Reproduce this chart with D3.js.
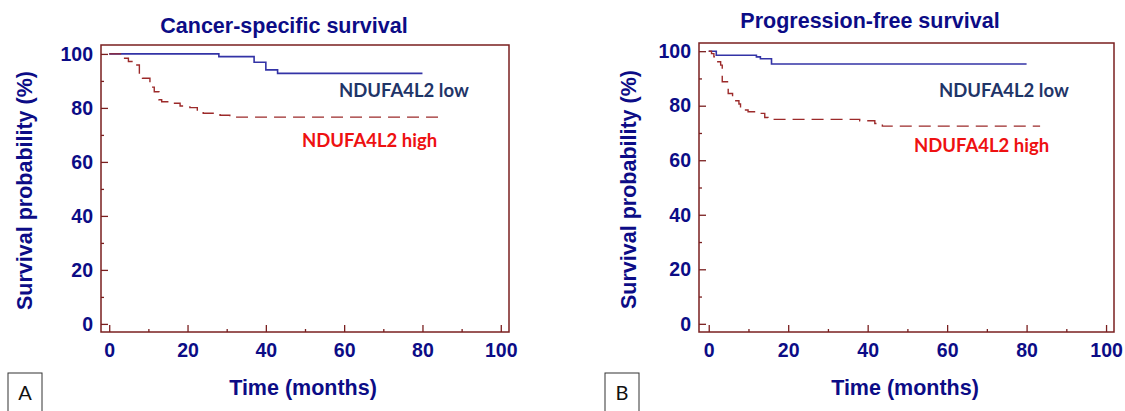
<!DOCTYPE html>
<html>
<head>
<meta charset="utf-8">
<script src="https://cdn.jsdelivr.net/npm/d3@7"></script>
<style>
  body { margin: 0; background: #fff; }
  .tick text { font-family: "Liberation Sans", Arial, sans-serif; font-weight: bold; font-size: 19.5px; fill: #0c0c86; }
  .title, .axisText { font-family: "Liberation Sans", Arial, sans-serif; font-weight: bold; fill: #0c0c86; }
  .legendText { font-family: Lato, "Open Sans", sans-serif; font-weight: bold; font-size: 18.5px; }
</style>
</head>
<body>
<div id="chart"></div>
<script>
// data

var xTicks = [0, 20, 40, 60, 80, 100];
var yTicks = [0, 20, 40, 60, 80, 100];

// A: cancer-specific survival
var csLowTime = [0, 28, 37, 40, 43, 80];
var csLowSurv = [100, 99, 96.9, 94.1, 92.8, 92.8];
var csHighTime = [0, 3.2, 4.9, 6.0, 7.7, 8.5, 10.4, 11.5, 12.7, 13.4, 15.5, 18.1, 20.6, 22.5, 24, 28.3, 30.8, 84];
var csHighSurv = [100, 98.4, 97.2, 95.9, 92.5, 91.0, 87.7, 86.0, 83.0, 82.3, 81.7, 80.7, 80.1, 78.9, 78.0, 77.3, 76.6, 76.6];

// B: progression-free survival
var pfsLowTime = [0, 1.9, 12, 13, 15.8, 80];
var pfsLowSurv = [100, 98.5, 97.9, 97.2, 95.3, 95.3];
var pfsHighTime = [0, 0.7, 1.3, 1.9, 3.0, 3.4, 4.9, 6.0, 7.6, 8.0, 9.9, 12.8, 14.1, 14.9, 38, 41.8, 43.7, 83.4];
var pfsHighSurv = [100, 99.1, 97.9, 96.1, 94.9, 88.8, 84.5, 81.8, 80.6, 78.4, 77.8, 77.2, 75.7, 75.0, 74.5, 73.5, 72.5, 72.5];

var svgWidth = 1125;
var svgHeight = 411;

var svg = d3.select('#chart')
    .append('svg')
    .attr('width', svgWidth)
    .attr('height', svgHeight);

var frameColor = '#7a1f1f';

var panels = [
    {
        title: 'Cancer-specific survival', letter: 'A',
        left: 101, right: 509, top: 45, bottom: 332,
        xDomain: [-2.1, 102.1], yDomain: [-3, 103.3],
        titleX: 284, titleY: 33, yLabelX: 32, timeX: 303, boxX: 8,
        low: [csLowTime, csLowSurv], high: [csHighTime, csHighSurv],
        lowLabel: [339, 97], highLabel: [302, 147]
    },
    {
        title: 'Progression-free survival', letter: 'B',
        left: 699, right: 1114, top: 43, bottom: 332,
        xDomain: [-2.45, 102.0], yDomain: [-3, 103],
        titleX: 870, titleY: 28, yLabelX: 636, timeX: 905, boxX: 605,
        low: [pfsLowTime, pfsLowSurv], high: [pfsHighTime, pfsHighSurv],
        lowLabel: [939, 97], highLabel: [914, 152]
    }
];

panels.forEach(function(p) {

    var x = d3.scaleLinear().domain(p.xDomain).range([p.left, p.right]);
    var y = d3.scaleLinear().domain(p.yDomain).range([p.bottom, p.top]);

    var g = svg.append('g');

    // frame
    g.append('rect')
        .attr('x', p.left)
        .attr('y', p.top)
        .attr('width', p.right - p.left)
        .attr('height', p.bottom - p.top)
        .attr('fill', 'none')
        .attr('stroke', frameColor)
        .attr('stroke-width', 1.5);

    // axes, ticks pointing inward
    var bottomAxis = d3.axisBottom(x).tickValues(xTicks).tickSizeInner(-7).tickSizeOuter(0).tickPadding(11);
    var bottomMinor = d3.axisBottom(x).tickValues([10, 30, 50, 70, 90]).tickSizeInner(-3).tickSizeOuter(0).tickFormat('');
    var leftAxis = d3.axisLeft(y).tickValues(yTicks).tickSizeInner(-7).tickSizeOuter(0).tickPadding(8);
    var leftMinor = d3.axisLeft(y).tickValues([10, 30, 50, 70, 90]).tickSizeInner(-3).tickSizeOuter(0).tickFormat('');

    [bottomAxis, bottomMinor].forEach(function(ax) {
        g.append('g')
            .attr('transform', `translate(0, ${p.bottom})`)
            .call(ax)
            .call(s => s.select('.domain').remove());
    });
    [leftAxis, leftMinor].forEach(function(ax) {
        g.append('g')
            .attr('transform', `translate(${p.left}, 0)`)
            .call(ax)
            .call(s => s.select('.domain').remove());
    });
    g.selectAll('.tick line').attr('stroke', frameColor).attr('stroke-width', 1.3);

    // step curves
    var line = d3.line()
        .x(d => x(d[0]))
        .y(d => y(d[1]))
        .curve(d3.curveStepAfter);

    g.append('path')
        .datum(d3.zip(p.low[0], p.low[1]))
        .attr('d', line)
        .attr('fill', 'none')
        .attr('stroke', '#3333a6')
        .attr('stroke-width', 1.6);

    g.append('path')
        .datum(d3.zip(p.high[0], p.high[1]))
        .attr('d', line)
        .attr('fill', 'none')
        .attr('stroke', '#9c2a2a')
        .attr('stroke-width', 1.4)
        .attr('stroke-dasharray', '12,7');

    // curve labels
    g.append('text')
        .attr('class', 'legendText')
        .attr('x', p.lowLabel[0])
        .attr('y', p.lowLabel[1])
        .attr('fill', '#1f3568')
        .text('NDUFA4L2 low');

    g.append('text')
        .attr('class', 'legendText')
        .attr('x', p.highLabel[0])
        .attr('y', p.highLabel[1])
        .attr('fill', '#ee1111')
        .text('NDUFA4L2 high');

    // titles and axis labels
    g.append('text')
        .attr('class', 'title')
        .attr('x', p.titleX)
        .attr('y', p.titleY)
        .attr('text-anchor', 'middle')
        .style('font-size', '21.5px')
        .text(p.title);

    g.append('text')
        .attr('class', 'axisText')
        .attr('transform', `translate(${p.yLabelX}, ${(p.top + p.bottom) / 2 + 2}) rotate(-90)`)
        .attr('text-anchor', 'middle')
        .style('font-size', '21.5px')
        .text('Survival probability (%)');

    g.append('text')
        .attr('class', 'axisText')
        .attr('x', p.timeX)
        .attr('y', 395)
        .attr('text-anchor', 'middle')
        .style('font-size', '21.5px')
        .text('Time (months)');

    // panel letter box
    g.append('rect')
        .attr('x', p.boxX)
        .attr('y', 373)
        .attr('width', 34)
        .attr('height', 45)
        .attr('fill', 'none')
        .attr('stroke', '#333')
        .attr('stroke-width', 1);

    g.append('text')
        .attr('x', p.boxX + 17)
        .attr('y', 400)
        .attr('text-anchor', 'middle')
        .style('font-family', 'Lato, "Open Sans", sans-serif')
        .style('font-size', '20px')
        .attr('fill', '#111')
        .text(p.letter);
});
</script>
</body>
</html>
